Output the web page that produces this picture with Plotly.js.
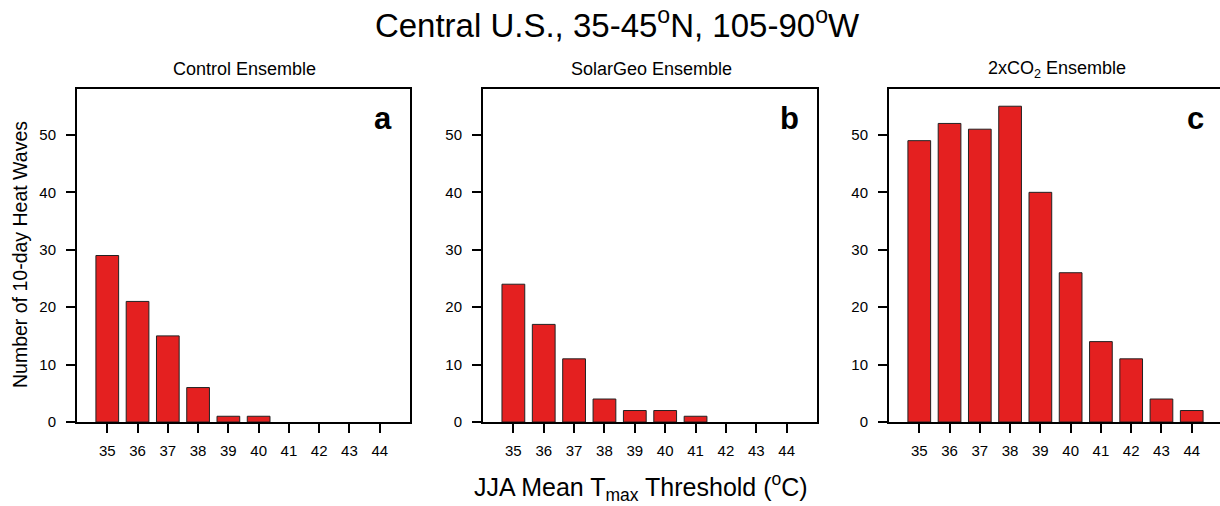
<!DOCTYPE html>
<html><head><meta charset="utf-8">
<script src="https://cdn.plot.ly/plotly-3.0.1.min.js"></script>
<style>html,body{margin:0;padding:0;overflow:hidden;background:#fff;}</style>
</head><body><div id="chart"></div>
<script>
const thresholds = [35, 36, 37, 38, 39, 40, 41, 42, 43, 44];
const controlCounts = [29, 21, 15, 6, 1, 1, 0, 0, 0, 0];
const solarGeoCounts = [24, 17, 11, 4, 2, 2, 1, 0, 0, 0];
const co2Counts = [49, 52, 51, 55, 40, 26, 14, 11, 4, 2];
const panelTitles = ["Control Ensemble", "SolarGeo Ensemble", "2xCO<sub>2</sub> Ensemble"];
const panelLetters = ["a", "b", "c"];
const yTicks = [0, 10, 20, 30, 40, 50];

const W = 1230, H = 506;
const FONT = "Liberation Sans, Arial, Helvetica, sans-serif";
const px = [[77, 410], [483, 817], [889, 1222]];
const yTop = 89, yBot = 422;
const ydom = [(H - yBot) / H, (H - yTop) / H];

const series = [controlCounts, solarGeoCounts, co2Counts];
const traces = series.map((vals, i) => ({
  type: 'bar',
  x: thresholds,
  y: vals,
  width: 0.75,
  xaxis: i === 0 ? 'x' : 'x' + (i + 1),
  yaxis: i === 0 ? 'y' : 'y' + (i + 1),
  marker: {color: 'rgb(228,32,32)', line: {color: '#222', width: vals.map(v => v > 0 ? 1 : 0)}},
  showlegend: false,
  hoverinfo: 'x+y'
}));

const layout = {
  width: W, height: H,
  margin: {l: 0, r: 0, t: 0, b: 0},
  paper_bgcolor: '#fff', plot_bgcolor: '#fff',
  font: {family: FONT, color: '#000'},
  showlegend: false,
  annotations: [],
  title: {text: 'Central U.S., 35-45<sup>o</sup>N, 105-90<sup>o</sup>W',
          font: {family: FONT, size: 33, color: '#000'},
          x: 617 / W, xanchor: 'center', y: 1 - 25 / H, yanchor: 'middle', xref: 'paper', yref: 'paper'}
};

for (let i = 0; i < 3; i++) {
  const xs = i === 0 ? '' : String(i + 1);
  layout['xaxis' + xs] = {
    domain: [px[i][0] / W, px[i][1] / W],
    anchor: 'y' + xs,
    range: [34, 45],
    tickvals: thresholds,
    ticktext: thresholds.map(String),
    ticks: 'outside', ticklen: 9, tickwidth: 2, tickcolor: '#000',
    ticklabelstandoff: 5,
    showline: true, linewidth: 2, linecolor: '#000', mirror: true,
    showgrid: false, zeroline: false,
    tickfont: {family: FONT, size: 15, color: '#000'},
    fixedrange: true
  };
  layout['yaxis' + xs] = {
    domain: ydom,
    anchor: 'x' + xs,
    range: [0, 58],
    tickvals: yTicks,
    ticks: 'outside', ticklen: 9, tickwidth: 2, tickcolor: '#000',
    ticklabelstandoff: 7,
    showline: true, linewidth: 2, linecolor: '#000', mirror: true,
    showgrid: false, zeroline: false,
    tickfont: {family: FONT, size: 15, color: '#000'},
    fixedrange: true
  };
  const cx = (px[i][0] + px[i][1]) / 2;
  layout.annotations.push({
    text: panelTitles[i], xref: 'paper', yref: 'paper',
    x: (cx + 1) / W, y: 1 - 69 / H, xanchor: 'center', yanchor: 'middle',
    showarrow: false, font: {family: FONT, size: 18, color: '#000'}
  });
  layout.annotations.push({
    text: '<b>' + panelLetters[i] + '</b>', xref: 'paper', yref: 'paper',
    x: (px[i][0] + 306) / W, y: 1 - 118 / H, xanchor: 'center', yanchor: 'middle',
    showarrow: false, font: {family: FONT, size: 31, color: '#000'}
  });
}
layout.annotations.push({
  text: 'Number of 10-day Heat Waves', xref: 'paper', yref: 'paper',
  x: 20 / W, y: 1 - 255 / H, xanchor: 'center', yanchor: 'middle', textangle: -90,
  showarrow: false, font: {family: FONT, size: 19.5, color: '#000'}
});
layout.annotations.push({
  text: 'JJA Mean T<sub>max</sub> Threshold (<sup>o</sup>C)', xref: 'paper', yref: 'paper',
  x: 641 / W, y: 1 - 487 / H, xanchor: 'center', yanchor: 'middle',
  showarrow: false, font: {family: FONT, size: 25, color: '#000'}
});

Plotly.newPlot('chart', traces, layout, {displayModeBar: false});
</script></body></html>
